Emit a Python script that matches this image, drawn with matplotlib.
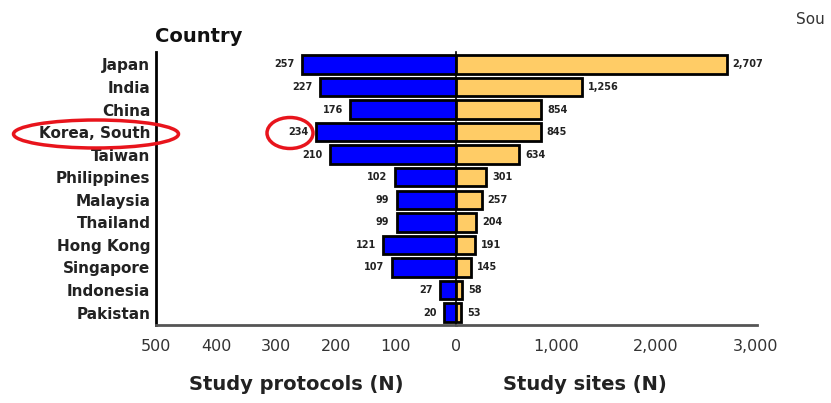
import numpy as np
import matplotlib.pyplot as plt
from matplotlib.patches import Ellipse

countries = ["Japan", "India", "China", "Korea, South", "Taiwan", "Philippines",
             "Malaysia", "Thailand", "Hong Kong", "Singapore", "Indonesia", "Pakistan"]
protocols = [257, 227, 176, 234, 210, 102, 99, 99, 121, 107, 27, 20]
sites = [2707, 1256, 854, 845, 634, 301, 257, 204, 191, 145, 58, 53]
left_ticks = [500, 400, 300, 200, 100, 0]
right_ticks = [1000, 2000, 3000]

W, H = 831, 403
fig = plt.figure(figsize=(W / 100, H / 100), dpi=100)

def box(x0, y0, x1, y1):
    return [x0 / W, 1 - y1 / H, (x1 - x0) / W, (y1 - y0) / H]

axl = fig.add_axes(box(156, 52, 456, 325))
axr = fig.add_axes(box(456, 52, 757, 325), sharey=axl)

y = np.arange(len(countries))
narrow = ["Liberation Sans Narrow", "DejaVu Sans"]

axl.barh(y, protocols, height=0.82, color="#0000ff", edgecolor="black", linewidth=2)
axl.set_xlim(500, 0)
axl.set_ylim(len(countries) - 0.45, -0.55)
axl.set_yticks(y)
axl.set_yticklabels(countries, fontsize=11, fontweight="bold", color="#222222")
axl.set_xticks(left_ticks)
axl.set_xticklabels([str(t) for t in left_ticks], fontsize=11.5, color="#333333")
for yi, v in zip(y, protocols):
    axl.text(v + 12, yi, str(v), ha="right", va="center", fontsize=7,
             family=narrow, fontweight="bold", color="#222222")

axr.barh(y, sites, height=0.82, color="#ffcc66", edgecolor="black", linewidth=2)
axr.set_xlim(0, 3010)
axr.set_xticks(right_ticks)
axr.set_xticklabels([f"{t:,}" for t in right_ticks], fontsize=11.5, color="#333333")
for yi, v in zip(y, sites):
    axr.text(v + 60, yi, f"{v:,}", ha="left", va="center", fontsize=7,
             family=narrow, fontweight="bold", color="#222222")
axr.tick_params(axis="y", left=False, labelleft=False)

for ax in (axl, axr):
    ax.tick_params(axis="both", length=0, pad=10)
    ax.spines["top"].set_visible(False)
    ax.spines["right"].set_visible(False)
    ax.spines["bottom"].set_linewidth(2)
    ax.spines["bottom"].set_color("#555555")
axl.spines["left"].set_linewidth(2)
axr.spines["left"].set_linewidth(1.2)
axl.tick_params(axis="y", pad=4)

fig.text(155 / W, 1 - 36 / H, "Country", fontsize=14, fontweight="bold",
         va="center", ha="left", color="#111111")
fig.text(796 / W, 1 - 20 / H, "Sou", fontsize=11, va="center", ha="left",
         color="#333333")
fig.text(296 / W, 1 - 385 / H, "Study protocols (N)", fontsize=14,
         fontweight="bold", ha="center", va="center", color="#222222")
fig.text(585 / W, 1 - 385 / H, "Study sites (N)", fontsize=14,
         fontweight="bold", ha="center", va="center", color="#222222")

for cx, cy, w, h in [(96, 134, 165, 28), (290, 133, 46, 31)]:
    fig.patches.append(Ellipse((cx / W, 1 - cy / H), w / W, h / H,
                               transform=fig.transFigure, fill=False,
                               edgecolor="#e8141c", linewidth=2.5))

fig.savefig("out.png", dpi=100)
